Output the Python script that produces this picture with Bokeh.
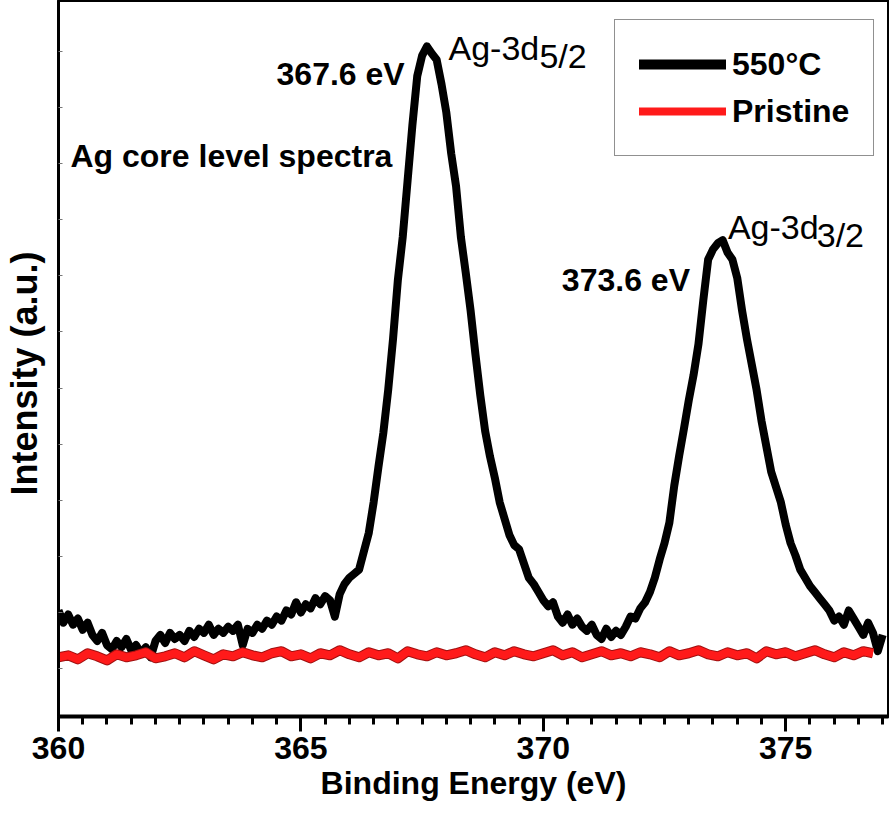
import math
from bokeh.plotting import figure
from bokeh.models import (Range1d, FixedTicker, Label, Legend, LegendItem, ColumnDataSource)
from bokeh.embed import file_html
from bokeh.resources import INLINE

# ---------------- data ----------------
black_energy = [round(360.0 + 0.1 * i, 1) for i in range(171)]   # 360.0 ... 377.0 eV
black_intensity = [
    104, 92, 100, 90, 96, 85, 92, 80, 74, 82,
    70, 66, 74, 68, 76, 65, 70, 62, 68, 58,
    74, 80, 72, 82, 76, 80, 74, 84, 78, 86,
    82, 90, 80, 86, 82, 88, 84, 90, 70, 86,
    82, 90, 86, 94, 90, 98, 94, 104, 100, 112,
    102, 110, 106, 116, 110, 118, 114, 98, 120, 130,
    136, 140, 144, 162, 180, 210, 245, 278, 320, 370,
    428, 470, 525, 580, 628, 648, 657, 650, 644, 620,
    592, 552, 520, 470, 435, 398, 355, 315, 280, 255,
    234, 210, 194, 178, 168, 164, 150, 136, 130, 122,
    114, 108, 112, 98, 92, 100, 90, 96, 88, 84,
    90, 80, 76, 86, 78, 84, 80, 88, 98, 96,
    106, 112, 122, 136, 154, 170, 190, 226, 255, 282,
    310, 335, 365, 408, 448, 458, 464, 467, 455, 448,
    430, 398, 370, 345, 320, 290, 265, 240, 225, 210,
    188, 170, 158, 144, 136, 128, 122, 116, 110, 104,
    94, 98, 90, 104, 96, 88, 80, 92, 82, 64,
    80,
]

red_energy = [round(360.0 + 0.2 * i, 1) for i in range(85)]     # 360.0 ... 376.8 eV
red_intensity = [
    58, 60, 56, 62, 59, 55, 61, 58, 60, 63,
    57, 59, 62, 58, 64, 60, 56, 61, 59, 63,
    60, 58, 62, 64, 59, 61, 57, 62, 60, 65,
    61, 58, 63, 60, 62, 57, 64, 61, 59, 63,
    60, 62, 65, 61, 58, 63, 60, 64, 61, 59,
    62, 65, 60, 63, 58, 61, 64, 60, 62, 59,
    63, 61, 58, 64, 60, 62, 65, 61, 59, 63,
    60, 62, 57, 64, 61, 63, 59, 62, 65, 61,
    58, 63, 60, 64, 62,
]

x_major_ticks = [360, 365, 370, 375]
x_minor_ticks = [360 + 0.5 * i for i in range(35)]
y_ticks = [47, 102, 157, 212, 267, 322, 377, 432, 487, 542, 597, 652]

series_labels = ["550°C", "Pristine"]
peak1_label, peak2_label = "367.6 eV", "373.6 eV"
x_title, y_title = "Binding Energy (eV)", "Intensity (a.u.)"

FONT = "Liberation Sans"

# ---------------- figure ----------------
p = figure(width=889, height=814, output_backend="svg", toolbar_location=None, title=None,
           x_range=Range1d(360, 377.12), y_range=Range1d(0, 702),
           min_border_left=56, min_border_right=1, min_border_top=0, min_border_bottom=98)
p.background_fill_color = "white"
p.border_fill_color = "white"
p.grid.visible = False
p.outline_line_color = "black"
p.outline_line_width = 3

xa = p.xaxis[0]
xa.ticker = FixedTicker(ticks=x_major_ticks, minor_ticks=x_minor_ticks)
xa.axis_line_width = 4
xa.axis_line_color = "black"
xa.major_tick_out = 15
xa.major_tick_in = 0
xa.major_tick_line_width = 3
xa.minor_tick_out = 8
xa.minor_tick_in = 0
xa.minor_tick_line_width = 3
xa.major_label_text_font = FONT
xa.major_label_text_font_style = "bold"
xa.major_label_text_font_size = "32px"
xa.major_label_text_color = "black"
xa.major_label_standoff = 5
xa.axis_label = x_title
xa.axis_label_text_font = FONT
xa.axis_label_text_font_style = "bold"
xa.axis_label_text_font_size = "32px"
xa.axis_label_text_color = "black"
xa.axis_label_standoff = 3

ya = p.yaxis[0]
ya.ticker = FixedTicker(ticks=y_ticks, minor_ticks=[])
ya.axis_line_width = 3
ya.axis_line_color = "black"
ya.major_tick_in = 4
ya.major_tick_out = 0
ya.major_tick_line_color = "#777777"
ya.major_tick_line_width = 1
ya.major_label_text_font_size = "0px"
ya.major_label_standoff = 0
# trailing no-break spaces nudge the centred title slightly downwards, as in the reference
ya.axis_label = y_title + "\u00a0\u00a0\u00a0"
ya.axis_label_text_font = FONT
ya.axis_label_text_font_style = "bold"
ya.axis_label_text_font_size = "36px"
ya.axis_label_text_color = "black"
ya.axis_label_standoff = 14

# ---------------- curves ----------------
black_src = ColumnDataSource(dict(x=black_energy, y=black_intensity))
red_src = ColumnDataSource(dict(x=red_energy, y=red_intensity))
p.line("x", "y", source=black_src, line_color="black", line_width=8, line_join="round")
p.line("x", "y", source=red_src, line_color="#a01010", line_width=10, line_join="round")
p.line("x", "y", source=red_src, line_color="#ff1a1a", line_width=8, line_join="round")

# legend-only renderers (thicker rounded lines as in the reference legend)
nan = float("nan")
lg_black = p.line([nan], [nan], line_color="black", line_width=10, line_cap="round")
lg_red = p.line([nan], [nan], line_color="#ff1a1a", line_width=8, line_cap="round")
legend = Legend(items=[LegendItem(label=series_labels[0], renderers=[lg_black]),
                       LegendItem(label=series_labels[1], renderers=[lg_red])],
                location=(556, 560), orientation="vertical")
legend.margin = 0
legend.padding = 24
legend.spacing = 7
legend.glyph_width = 87
legend.glyph_height = 40
legend.label_height = 40
legend.label_standoff = 6
legend.label_text_font = FONT
legend.label_text_font_style = "bold"
legend.label_text_font_size = "32px"
legend.label_text_color = "black"
legend.label_text_baseline = "middle"
legend.border_line_color = "#222222"
legend.border_line_width = 1.5
legend.background_fill_color = "white"
legend.background_fill_alpha = 1
p.add_layout(legend, "center")

# ---------------- texts ----------------
def add_text(x, y, text, bold=True, align="left", size="32px"):
    p.add_layout(Label(x=x, y=y, text=text, text_font=FONT,
                       text_font_style="bold" if bold else "normal",
                       text_font_size=size, text_color="black",
                       text_align=align, text_baseline="alphabetic"))

add_text(367.14, 630, peak1_label, bold=True, align="right")
add_text(368.045, 655, "Ag-3d", bold=False, size="34px")
add_text(369.92, 648, "5/2", bold=False, size="34px")
add_text(360.247, 550, "Ag core level spectra", bold=True)
add_text(373.025, 428, peak2_label, bold=True, align="right")
add_text(373.807, 480, "Ag-3d", bold=False, size="34px")
add_text(375.64, 472, "3/2", bold=False, size="34px")

open("out.html", "w").write(file_html(p, INLINE))
